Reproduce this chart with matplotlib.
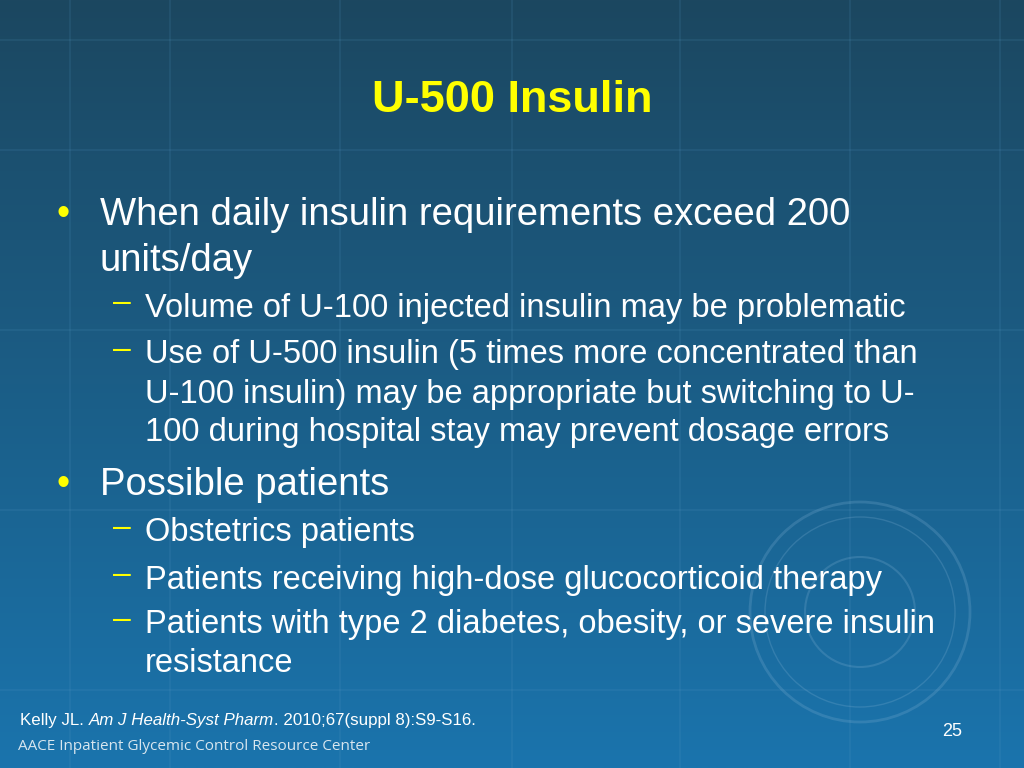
import numpy as np
import matplotlib.pyplot as plt
from matplotlib.patches import Circle

plt.rcParams['font.family'] = ['Liberation Sans', 'DejaVu Sans']

title = "U-500 Insulin"
# (level, marker, text, y pixel center)
lines = [
    (0, "•", "When daily insulin requirements exceed 200", 212),
    (0, "", "units/day", 258),
    (1, "–", "Volume of U-100 injected insulin may be problematic", 305),
    (1, "–", "Use of U-500 insulin (5 times more concentrated than", 352),
    (1, "", "U-100 insulin) may be appropriate but switching to U-", 391),
    (1, "", "100 during hospital stay may prevent dosage errors", 430),
    (0, "•", "Possible patients", 482),
    (1, "–", "Obstetrics patients", 530),
    (1, "–", "Patients receiving high-dose glucocorticoid therapy", 577),
    (1, "–", "Patients with type 2 diabetes, obesity, or severe insulin", 622),
    (1, "", "resistance", 661),
]
citation = [("Kelly JL. ", 'normal'), ("Am J Health-Syst Pharm", 'italic'),
            (". 2010;67(suppl 8):S9-S16.", 'normal')]
page = "25"
footer = "AACE Inpatient Glycemic Control Resource Center"

W, H = 1024, 768
fig = plt.figure(figsize=(W / 100, H / 100), dpi=100)
ax = fig.add_axes([0, 0, 1, 1])
ax.set_xlim(0, W)
ax.set_ylim(H, 0)
ax.axis('off')

# background gradient
t = np.linspace(0, 1, 256)[:, None]
top = np.array([0x1c, 0x47, 0x60]) / 255
bot = np.array([0x1a, 0x74, 0xad]) / 255
grad = top + (bot - top) * t[..., None]
grad = np.repeat(grad, 2, axis=1)
ax.imshow(grad, extent=[0, W, H, 0], aspect='auto', zorder=0)

# faint grid
for x in [70, 170, 340, 512, 680, 850, 1000]:
    ax.axvline(x, color='#5a9cc8', alpha=0.15, lw=1.2, zorder=1)
for y in [40, 150, 330, 510, 690]:
    ax.axhline(y, color='#5a9cc8', alpha=0.15, lw=1.2, zorder=1)

# seal watermark
for r, lw in [(110, 2), (95, 1), (55, 1.5)]:
    ax.add_patch(Circle((860, 612), r, fill=False, ec='#7fb0d3', alpha=0.25, lw=lw, zorder=1))

ax.text(512, 101, title, color='#ffff00', fontsize=32.5, fontweight='bold', ha='center', va='center', zorder=3)

for level, mark, txt, y in lines:
    y += 3
    if level == 0:
        if mark:
            ax.text(57, y, mark, color='#ffff00', fontsize=27, va='center', zorder=3)
        ax.text(100, y, txt, color='white', fontsize=27.5, va='center', zorder=3)
    else:
        if mark:
            ax.text(113, y - 5, mark, color='#ffff00', fontsize=23, va='center', zorder=3)
        ax.text(145, y, txt, color='white', fontsize=23.5, va='center', zorder=3)

x0 = 20
for seg, style in citation:
    tx = ax.text(x0, 720, seg, color='white', fontsize=12.2, style=style, va='center', zorder=3)
    fig.canvas.draw()
    x0 += tx.get_window_extent().width
ax.text(18, 746, footer, color='#d8e6ef', fontsize=11, family=['Open Sans', 'DejaVu Sans'], va='center', zorder=3)
ax.text(952, 732, page, color='white', fontsize=13, ha='center', va='center', zorder=3)

fig.savefig("out.png", dpi=100)
